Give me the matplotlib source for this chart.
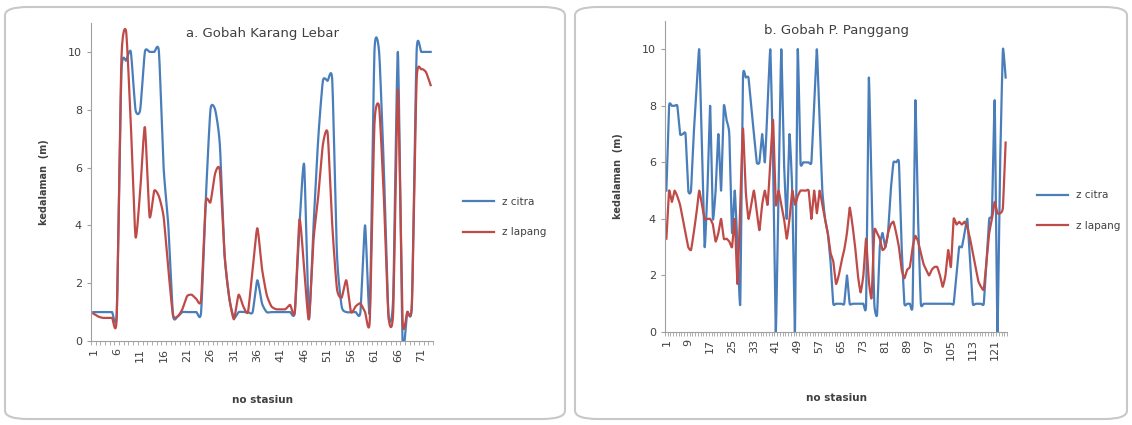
import numpy as np
import matplotlib
matplotlib.use("Agg")
import matplotlib.pyplot as plt
from matplotlib.patches import FancyBboxPatch

# ---- data ----
# a. Gobah Karang Lebar (stations 1..73)
a_citra = [1.0, 1.0, 1.0, 1.0, 1.0, 1.0, 9.3, 9.7, 10.0, 8.0,
           8.0, 10.0, 10.0, 10.0, 10.0, 6.0, 4.0, 0.9, 0.85, 1.0,
           1.0, 1.0, 1.0, 1.0, 4.9, 8.0, 8.0, 6.8, 3.0, 1.5,
           0.8, 1.0, 1.0, 1.0, 1.0, 2.1, 1.3, 1.0, 1.0, 1.0,
           1.0, 1.0, 1.0, 1.0, 4.0, 6.1, 0.75, 4.0, 7.0, 9.0,
           9.0, 9.0, 3.0, 1.2, 1.0, 1.0, 1.0, 1.0, 4.0, 1.0,
           10.0, 10.0, 6.0, 0.9, 1.5, 10.0, 0.0, 1.0, 1.3, 10.0,
           10.0, 10.0, 10.0]
a_lapang = [0.95, 0.85, 0.8, 0.8, 0.8, 0.85, 9.8, 10.7, 7.5, 3.6,
            5.2, 7.4, 4.3, 5.2, 5.0, 4.3, 2.5, 0.9, 0.85, 1.1,
            1.55, 1.6, 1.45, 1.45, 4.8, 4.8, 5.8, 5.9, 3.0, 1.5,
            0.75, 1.6, 1.2, 1.0, 2.5, 3.9, 2.5, 1.6, 1.2, 1.1,
            1.1, 1.1, 1.25, 1.0, 4.2, 2.5, 0.75, 3.5, 5.0, 6.8,
            7.2, 4.0, 1.8, 1.5, 2.1, 1.0, 1.2, 1.3, 1.0, 0.7,
            7.5, 8.1, 5.0, 0.85, 1.0, 8.7, 0.7, 1.0, 1.3, 9.0,
            9.4, 9.3, 8.85]

# b. Gobah P. Panggang (stations 1..125)
b_citra = [5.0, 8.0, 8.0, 8.0, 8.0, 7.0, 7.0, 7.0, 5.0, 5.0,
           7.0, 8.5, 10.0, 6.5, 3.0, 5.0, 8.0, 4.0, 5.0, 7.0,
           5.0, 8.0, 7.5, 7.0, 3.5, 5.0, 3.0, 1.0, 9.0, 9.0,
           9.0, 8.0, 7.0, 6.0, 6.0, 7.0, 6.0, 8.0, 10.0, 6.0,
           0.0, 5.0, 10.0, 6.0, 4.0, 7.0, 5.0, 0.0, 10.0, 6.0,
           6.0, 6.0, 6.0, 6.0, 8.0, 10.0, 7.5, 5.0, 4.0, 3.5,
           2.5, 1.0, 1.0, 1.0, 1.0, 1.0, 2.0, 1.0, 1.0, 1.0,
           1.0, 1.0, 1.0, 1.0, 9.0, 5.0, 1.0, 0.6, 3.0, 3.5,
           3.0, 3.5, 5.0, 6.0, 6.0, 6.0, 3.0, 1.0, 1.0, 1.0,
           1.0, 8.2, 4.0, 1.0, 1.0, 1.0, 1.0, 1.0, 1.0, 1.0,
           1.0, 1.0, 1.0, 1.0, 1.0, 1.0, 2.0, 3.0, 3.0, 3.5,
           4.0, 2.5, 1.0, 1.0, 1.0, 1.0, 1.0, 2.5, 4.0, 4.2,
           8.2, 0.0, 6.0, 10.0, 9.0]
b_lapang = [3.3, 5.0, 4.6, 5.0, 4.8, 4.5, 4.0, 3.5, 3.0, 2.9,
            3.5, 4.2, 5.0, 4.5, 4.0, 4.0, 4.0, 3.8, 3.2, 3.5,
            4.0, 3.3, 3.3, 3.2, 3.0, 4.0, 1.7, 4.5, 7.2, 5.0,
            4.0, 4.5, 5.0, 4.3, 3.6, 4.5, 5.0, 4.5, 6.0, 7.5,
            4.5, 5.0, 4.5, 4.0, 3.3, 4.0, 5.0, 4.5, 4.8, 5.0,
            5.0, 5.0, 5.0, 4.0, 5.0, 4.2, 5.0, 4.5, 4.0, 3.5,
            2.8, 2.5, 1.7, 2.0, 2.5, 2.9, 3.5, 4.4, 3.8, 3.0,
            2.0, 1.4, 2.0, 3.3, 1.8, 1.2, 3.6, 3.5, 3.3, 2.9,
            3.0, 3.5, 3.8, 3.9, 3.5, 3.0, 2.2, 1.9, 2.2, 2.3,
            3.0, 3.4, 3.2, 2.8, 2.4, 2.2, 2.0, 2.2, 2.3, 2.3,
            2.0, 1.6, 2.0, 2.9, 2.3, 4.0, 3.8, 3.9, 3.8, 3.9,
            3.7, 3.3, 2.8, 2.3, 1.8, 1.6, 1.5, 2.5, 3.5, 4.0,
            4.6, 4.2, 4.2, 4.4, 6.7]

BLUE = "#4a7ebb"
RED = "#be4b48"
TXT = "#404040"


def smooth(y, c=0.3, n=12):
    # smoothed line through the points (cardinal spline, tangent factor c)
    y = np.asarray(y, float)
    x = np.arange(1, len(y) + 1, dtype=float)
    t = np.linspace(0, 1, n, endpoint=False)
    h00 = 2 * t**3 - 3 * t**2 + 1
    h10 = t**3 - 2 * t**2 + t
    h01 = -2 * t**3 + 3 * t**2
    h11 = t**3 - t**2
    xs, ys = [], []
    for P, out in ((x, xs), (y, ys)):
        pp = np.concatenate([[P[0]], P, [P[-1]]])
        m = c * (pp[2:] - pp[:-2])
        for i in range(len(P) - 1):
            out.extend(h00 * P[i] + h10 * m[i] + h01 * P[i + 1] + h11 * m[i + 1])
        out.append(P[-1])
    return np.array(xs), np.array(ys)


def panel(ax, citra, lapang, step, title, c):
    n = len(citra)
    for vals, col, lab in ((citra, BLUE, "z citra"), (lapang, RED, "z lapang")):
        sx, sy = smooth(vals, c)
        ax.plot(sx, sy, color=col, lw=1.6, label=lab)
    ax.set_facecolor("none")
    ax.set_xlim(0.5, n + 0.5)
    ax.set_ylim(0, 11)
    ax.set_yticks(range(0, 11, 2))
    ax.set_xticks(range(1, n + 1, step))
    ax.set_xticks(np.arange(0.5, n + 1), minor=True)
    ax.tick_params(axis="x", which="major", length=0, labelrotation=90,
                   labelsize=8, colors=TXT, pad=5)
    ax.tick_params(axis="x", which="minor", length=3, color="#a0a0a0",
                   direction="out")
    ax.tick_params(axis="y", length=3, color="#a0a0a0", labelsize=8,
                   colors=TXT)
    for s in ("top", "right"):
        ax.spines[s].set_visible(False)
    for s in ("left", "bottom"):
        ax.spines[s].set_color("#a0a0a0")
    ax.set_title(title, fontsize=9.5, color=TXT, y=0.93)
    ax.set_xlabel("no stasiun", fontsize=7.5, fontweight="bold", color=TXT,
                  labelpad=24)
    ax.set_ylabel("kedalaman  (m)", fontsize=7, fontweight="bold",
                  color=TXT, labelpad=14)
    ax.legend(loc="center left", bbox_to_anchor=(1.06, 0.39), frameon=False,
              fontsize=7.5, handlelength=3.0, labelspacing=2.0,
              labelcolor=TXT)


fig = plt.figure(figsize=(11.32, 4.25), dpi=100)

for x0, w in ((5 / 1132, 560 / 1132), (575 / 1132, 552 / 1132)):
    fig.patches.append(FancyBboxPatch((x0, 6 / 425), w, 412 / 425,
                                      boxstyle="round,pad=0,rounding_size=0.02",
                                      transform=fig.transFigure,
                                      facecolor="white", edgecolor="#c8c8c8",
                                      lw=1.5, zorder=-5))

ax1 = fig.add_axes([91 / 1132, 84 / 425, 342 / 1132, 318 / 425])
ax2 = fig.add_axes([665 / 1132, 93 / 425, 342 / 1132, 311 / 425])
panel(ax1, a_citra, a_lapang, 5, "a. Gobah Karang Lebar", 0.3)
panel(ax2, b_citra, b_lapang, 8, "b. Gobah P. Panggang", 0.2)

fig.savefig("out.png", dpi=100)
